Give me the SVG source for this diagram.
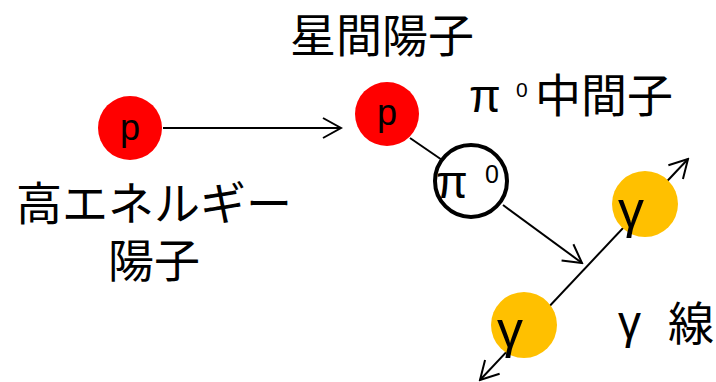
<svg xmlns="http://www.w3.org/2000/svg" width="716" height="382" viewBox="0 0 716 382">
<style>
text{font-family:"Liberation Sans","Noto Sans CJK JP",sans-serif;fill:#000}
.jp{font-family:"Noto Sans CJK JP",sans-serif;font-size:46px}
.ln{stroke:#000;stroke-width:2;fill:none}
.red{fill:#ff0000}
.yel{fill:#ffc000}
</style>
<defs>
<marker id="ah" viewBox="-20 -12 22 24" refX="0" refY="0" markerWidth="22" markerHeight="24" markerUnits="userSpaceOnUse" orient="auto-start-reverse">
<path d="M-18,-10 L0,0 L-18,10" fill="none" stroke="#000" stroke-width="2"/>
</marker>
</defs>
<rect width="716" height="382" fill="#ffffff"/>
<g id="connectors">
<line class="ln" x1="163" y1="128" x2="341" y2="128" marker-end="url(#ah)"/>
<line class="ln" x1="410" y1="138" x2="445" y2="162"/>
<line class="ln" x1="503" y1="205" x2="582" y2="263" marker-end="url(#ah)"/>
<line class="ln" x1="480" y1="380" x2="688" y2="159" marker-start="url(#ah)" marker-end="url(#ah)"/>
</g>
<g id="p1">
<circle class="red" cx="130" cy="128" r="32"/>
<text x="130" y="140" font-size="36" text-anchor="middle">p</text>
</g>
<g id="p2">
<circle class="red" cx="387" cy="114" r="32"/>
<text x="387" y="125" font-size="36" text-anchor="middle">p</text>
</g>
<g id="pi0">
<circle cx="471" cy="181" r="36" fill="#fff" stroke="#000" stroke-width="4"/>
<text x="436" y="198" font-size="46">π</text>
<text x="485" y="183" font-size="25">0</text>
</g>
<g id="gamma1">
<circle class="yel" cx="645" cy="204" r="33"/>
<text x="631" y="227" font-size="52" text-anchor="middle">γ</text>
</g>
<g id="gamma2">
<circle class="yel" cx="524" cy="325" r="33"/>
<text x="510" y="347" font-size="52" text-anchor="middle">γ</text>
</g>
<g id="labels">
<text class="jp" x="290" y="52">星間陽子</text>
<text x="469" y="112" font-size="46">π</text>
<text x="516" y="97" font-size="21">0</text>
<text class="jp" x="535" y="112">中間子</text>
<text class="jp" x="16" y="220">高エネルギー</text>
<text class="jp" x="108" y="277">陽子</text>
<text x="618" y="338" font-size="46">γ</text>
<text class="jp" x="668" y="340">線</text>
</g>
</svg>
